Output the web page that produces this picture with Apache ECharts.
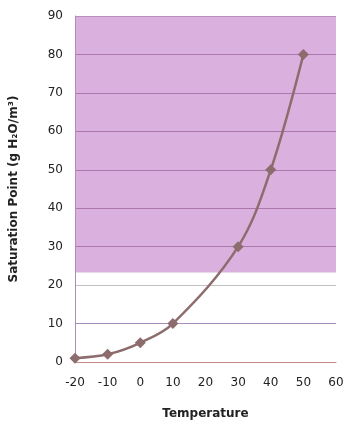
<!DOCTYPE html>
<html>
<head>
<meta charset="utf-8">
<script src="https://cdn.jsdelivr.net/npm/echarts@6/dist/echarts.min.js"></script>
<style>html,body{margin:0;padding:0;background:#fff;}#c{width:360px;height:442px;}</style>
</head>
<body>
<div id="c"></div>
<script>
const temperatures = [-20, -10, 0, 10, 30, 40, 50];
const saturation = [1, 2, 5, 10, 30, 50, 80];
const shadedFrom = 23.3;
const shadedTo = 90;
const xTitle = 'Temperature';
const yTitle = 'Saturation Point (g H\u2082O/m\u00B3)';

const chart = echarts.init(document.getElementById('c'));
chart.setOption({
  animation: false,
  grid: { left: 75, right: 24, top: 16, bottom: 80 },
  xAxis: {
    type: 'value', min: -20, max: 60, interval: 10,
    name: xTitle, nameLocation: 'middle', nameGap: 46,
    nameTextStyle: { fontFamily: 'DejaVu Sans', fontSize: 12, fontWeight: 'bold', color: '#222' },
    axisLine: { show: true, onZero: false, lineStyle: { color: '#c48a8a', width: 1 } },
    axisTick: { show: false },
    axisLabel: { fontFamily: 'DejaVu Sans', fontSize: 12, color: '#222', margin: 15 },
    splitLine: { show: false }
  },
  yAxis: {
    type: 'value', min: 0, max: 90, interval: 10,
    name: yTitle, nameLocation: 'middle', nameGap: 55, nameRotate: 90,
    nameTextStyle: { fontFamily: 'DejaVu Sans', fontSize: 12, fontWeight: 'bold', color: '#222' },
    axisLine: { show: true, onZero: false, lineStyle: { color: '#a890b0', width: 1 } },
    axisTick: { show: false },
    axisLabel: { fontFamily: 'DejaVu Sans', fontSize: 12, color: '#222', margin: 12 },
    splitLine: { show: true, lineStyle: { color: ['#c48a8a', '#a98cbc', '#c4c0c4', '#7c6478', '#7c6478', '#7c6478', '#7c6478', '#7c6478', '#7c6478', '#a0a0a0'], width: 1 } }
  },
  series: [{
    type: 'line',
    data: temperatures.map((t, i) => [t, saturation[i]]),
    smooth: 0.35,
    symbol: 'diamond',
    symbolSize: 11,
    lineStyle: { color: '#8c6c6c', width: 2.5 },
    itemStyle: { color: '#8c6c6c' },
    markArea: {
      silent: true,
      itemStyle: { color: 'rgba(196,132,204,0.64)' },
      data: [[{ yAxis: shadedFrom }, { yAxis: shadedTo }]]
    }
  }]
});
</script>
</body>
</html>
